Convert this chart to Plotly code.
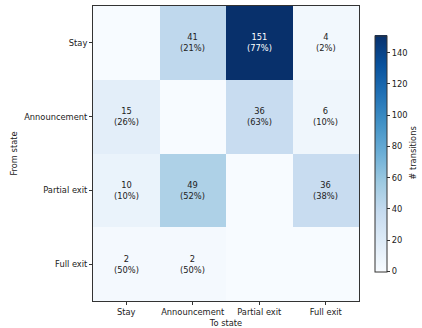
import plotly.graph_objects as go

states = ["Stay", "Announcement", "Partial exit", "Full exit"]

# transition counts: rows = from state, columns = to state
counts = [
    [0, 41, 151, 4],
    [15, 0, 36, 6],
    [10, 49, 0, 36],
    [2, 2, 0, 0],
]
# row-wise share of each transition, in percent
shares = [
    [0, 21, 77, 2],
    [26, 0, 63, 10],
    [10, 52, 0, 38],
    [50, 50, 0, 0],
]

FS = 8.3
INK = "#222"

blues = ["#f7fbff", "#deebf7", "#c6dbef", "#9ecae1", "#6baed6",
         "#4292c6", "#2171b5", "#08519c", "#08306b"]
scale = [[i / (len(blues) - 1), c] for i, c in enumerate(blues)]
zmax = max(max(r) for r in counts)

fig = go.Figure(go.Heatmap(
    z=counts, x=states, y=states,
    colorscale=scale, zmin=0, zmax=zmax,
    colorbar=dict(
        thickness=12, len=0.8, lenmode="fraction",
        x=1.06, xanchor="left", y=0.5, yanchor="middle",
        xpad=0, ypad=0,
        outlinewidth=1, outlinecolor="#333",
        ticks="outside", ticklen=3, tickcolor="#333",
        tickvals=list(range(0, 141, 20)),
        tickfont=dict(size=FS, color=INK),
    ),
    hoverinfo="skip",
))

# colour bar label, set a little apart from the tick numbers
fig.add_annotation(
    xref="paper", yref="paper", x=1.2, y=0.5,
    xanchor="center", yanchor="middle",
    text="# transitions", textangle=-90, showarrow=False,
    font=dict(size=FS, color=INK),
)

for i, row in enumerate(counts):
    for j, v in enumerate(row):
        if v == 0:
            continue
        fig.add_annotation(
            x=states[j], y=states[i],
            text=f"{v}<br>({shares[i][j]}%)",
            showarrow=False,
            font=dict(size=FS, color="white" if v > 0.6 * zmax else INK),
        )

axis_common = dict(
    showline=True, linecolor="#333", linewidth=1, mirror=True,
    ticks="outside", ticklen=3, tickcolor="#333", tickangle=0,
    tickfont=dict(size=FS, color=INK),
    showgrid=False, zeroline=False, automargin=False,
)
fig.update_xaxes(title=dict(text="To state", font=dict(size=FS, color=INK), standoff=5),
                 **axis_common)
fig.update_yaxes(title=dict(text="From state", font=dict(size=FS, color=INK), standoff=5),
                 autorange="reversed", **axis_common)

fig.update_layout(
    width=422, height=328,
    margin=dict(l=93, r=63, t=6, b=27, autoexpand=False),
    paper_bgcolor="white", plot_bgcolor="white",
    font=dict(family="DejaVu Sans", size=FS, color=INK),
)

fig.write_html("out.html")
